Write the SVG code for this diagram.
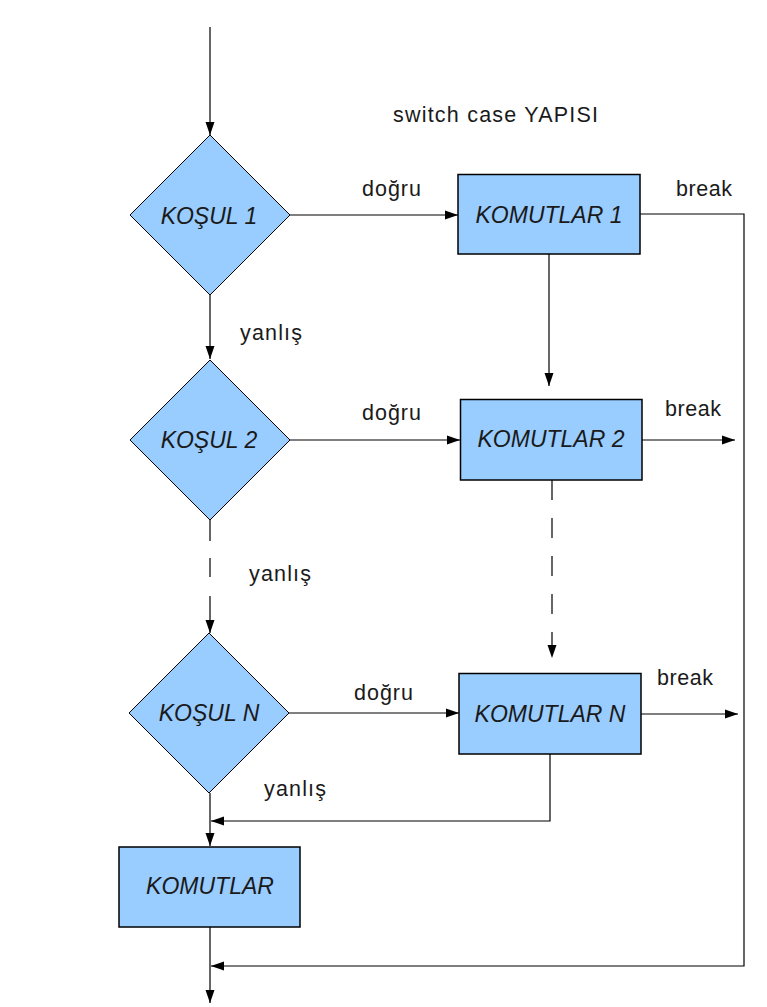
<svg xmlns="http://www.w3.org/2000/svg" width="767" height="1007" viewBox="0 0 767 1007">
<style>
.n{fill:#99ccff;stroke:#000;stroke-width:1}
.b{fill:#99ccff;stroke:#000;stroke-width:1.5}
.t{font-family:"Liberation Sans",Arial,sans-serif;font-size:23px;font-style:italic;fill:#1a1a1a;text-anchor:middle}
.l{font-family:"Liberation Sans",Arial,sans-serif;font-size:21.5px;fill:#1a1a1a}
.c{fill:none;stroke:#000;stroke-width:1.2}
</style>
<defs>
<marker id="a" markerWidth="13" markerHeight="10" refX="13" refY="5" orient="auto" markerUnits="userSpaceOnUse">
<path d="M0,0.5 L13,5 L0,9.5 z" fill="#000"/>
</marker>
</defs>
<rect width="767" height="1007" fill="#fff"/>
<g id="connectors">
<path class="c" d="M210,27 V135" marker-end="url(#a)"/>
<path class="c" d="M210,295 V359" marker-end="url(#a)"/>
<path class="c" d="M210,520 V541 M210,558 V577"/>
<path class="c" d="M210,596 V633" marker-end="url(#a)"/>
<path class="c" d="M549,254 V386" marker-end="url(#a)"/>
<path class="c" d="M552,480 V658" stroke-dasharray="20,18" marker-end="url(#a)"/>
<path class="c" d="M290,215 H458" marker-end="url(#a)"/>
<path class="c" d="M290,440 H460" marker-end="url(#a)"/>
<path class="c" d="M289,713 H459" marker-end="url(#a)"/>
<path class="c" d="M640,214 H744 V966 H211" marker-end="url(#a)"/>
<path class="c" d="M642,440 H735" marker-end="url(#a)"/>
<path class="c" d="M641,714 H738" marker-end="url(#a)"/>
<path class="c" d="M550,754 V821 H211" marker-end="url(#a)"/>
<path class="c" d="M210,793 V846" marker-end="url(#a)"/>
<path class="c" d="M210,927 V1003" marker-end="url(#a)"/>
</g>
<g id="kosul1"><polygon class="n" points="210,135 290,215 210,295 130,215"/><text class="t" x="209" y="224">KOŞUL 1</text></g>
<g id="kosul2"><polygon class="n" points="210,360 290,440 210,520 130,440"/><text class="t" x="209" y="448">KOŞUL 2</text></g>
<g id="kosulN"><polygon class="n" points="209,633 289,713 209,793 129,713"/><text class="t" x="209" y="721">KOŞUL N</text></g>
<g id="komutlar1"><rect class="b" x="458" y="174.5" width="182" height="79.5"/><text class="t" x="549" y="223">KOMUTLAR 1</text></g>
<g id="komutlar2"><rect class="b" x="460.5" y="399.5" width="181.5" height="80.5"/><text class="t" x="551" y="447">KOMUTLAR 2</text></g>
<g id="komutlarN"><rect class="b" x="459" y="673.5" width="182" height="80.5"/><text class="t" x="550" y="722">KOMUTLAR N</text></g>
<g id="komutlar"><rect class="b" x="119" y="847" width="181" height="80"/><text class="t" x="210" y="894">KOMUTLAR</text></g>
<g id="labels">
<text class="l" x="393" y="122" textLength="205" lengthAdjust="spacing">switch case YAPISI</text>
<text class="l" x="362" y="196" textLength="59" lengthAdjust="spacing">doğru</text>
<text class="l" x="676" y="196" textLength="56" lengthAdjust="spacing">break</text>
<text class="l" x="240" y="340" textLength="62" lengthAdjust="spacing">yanlış</text>
<text class="l" x="362" y="420" textLength="59" lengthAdjust="spacing">doğru</text>
<text class="l" x="665" y="416" textLength="56" lengthAdjust="spacing">break</text>
<text class="l" x="249" y="581" textLength="62" lengthAdjust="spacing">yanlış</text>
<text class="l" x="354" y="700" textLength="59" lengthAdjust="spacing">doğru</text>
<text class="l" x="657" y="685" textLength="56" lengthAdjust="spacing">break</text>
<text class="l" x="264" y="796" textLength="62" lengthAdjust="spacing">yanlış</text>
</g>
</svg>
